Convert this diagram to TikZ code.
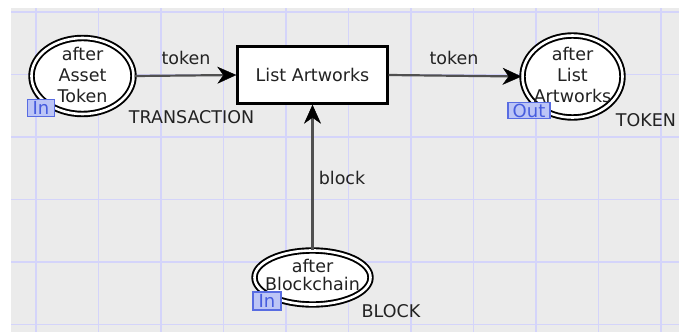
\documentclass[tikz,border=0pt]{standalone}
\usepackage{fontspec}
\setmainfont{DejaVu Sans}
\usetikzlibrary{arrows.meta,shapes.geometric}

\definecolor{canvas}{RGB}{235,235,235}
\definecolor{gridline}{RGB}{212,212,250}
\definecolor{arcgray}{RGB}{80,80,80}
\definecolor{inkgray}{RGB}{34,34,34}
\definecolor{tagfill}{RGB}{188,197,246}
\definecolor{tagdraw}{RGB}{88,108,226}
\definecolor{tagtext}{RGB}{70,92,222}

\tikzset{
  place/.style={ellipse, draw=black, fill=white, double=white,
    double distance=2.6pt, line width=1.9pt, inner sep=0pt},
  placetext/.style={align=center, text=inkgray, inner sep=0pt,
    font=\fontsize{17.5}{21}\selectfont},
  trans/.style={rectangle, draw=black, fill=white, line width=2.4pt,
    minimum width=150pt, minimum height=57pt, inner sep=0pt,
    text=inkgray, font=\fontsize{17.5}{20}\selectfont},
  arc/.style={draw=arcgray, line width=2.2pt,
    -{Stealth[length=19pt,width=17pt,inset=6pt,color=black,fill=black,line width=0.4pt]}},
  lbl/.style={text=inkgray, inner sep=0pt, font=\fontsize{17.5}{20}\selectfont},
  porttag/.style={rectangle, draw=tagdraw, fill=tagfill, line width=1.4pt,
    text=tagtext, inner sep=0pt, font=\fontsize{18}{18}\selectfont}
}

\begin{document}
\begin{tikzpicture}[x=1pt,y=-1pt]
  \useasboundingbox (0,0) rectangle (679,332);
  % page and grid
  \fill[white] (0,0) rectangle (679,332);
  \fill[canvas] (11,8) rectangle (679,332);
  \foreach \k in {0,...,10}
    \draw[gridline, line width=1.8pt] (36+62.5*\k,8) -- (36+62.5*\k,332);
  \foreach \k in {0,...,5}
    \draw[gridline, line width=1.8pt] (11,12+62.5*\k) -- (679,12+62.5*\k);

  % places
  \node[place, minimum width=102pt, minimum height=76pt] (pa) at (82.5,76) {};
  \node[placetext] (pat) at (82.5,75) {after\\Asset\\Token};
  \node[place, minimum width=100pt, minimum height=82pt] (pl) at (572.5,76.5) {};
  \node[placetext] (plt) at (572.5,75) {after\\List\\Artworks};
  \node[place, minimum width=116pt, minimum height=54pt] (pb) at (312.5,277.5) {};
  \node[placetext, font=\fontsize{17.5}{17.5}\selectfont] (pbt) at (312.5,275) {after\\Blockchain};

  % transition
  \node[trans] (t) at (312.5,75) {List Artworks};

  % arcs
  \draw[arc] (pa.east) -- (t.west);
  \draw[arc] (t.east) -- (pl.west);
  \draw[arc] (pb.north) -- (t.south);

  % arc inscriptions and colour sets
  \node[lbl] (ltok1) at (186,58) {token};
  \node[lbl] (ltok2) at (454,58) {token};
  \node[lbl] (lblock) at (342,178) {block};
  \node[lbl] (cs1) at (191.5,117) {TRANSACTION};
  \node[lbl] (cs2) at (646,120) {TOKEN};
  \node[lbl] (cs3) at (391,311) {BLOCK};

  % port tags
  \node[porttag, minimum width=27pt, minimum height=17pt] (tin1) at (41,108) {In};
  \node[porttag, minimum width=42pt, minimum height=16pt] (tout) at (529,110.5) {Out};
  \node[porttag, minimum width=28pt, minimum height=18pt] (tin2) at (267,301) {In};
\end{tikzpicture}
\end{document}
